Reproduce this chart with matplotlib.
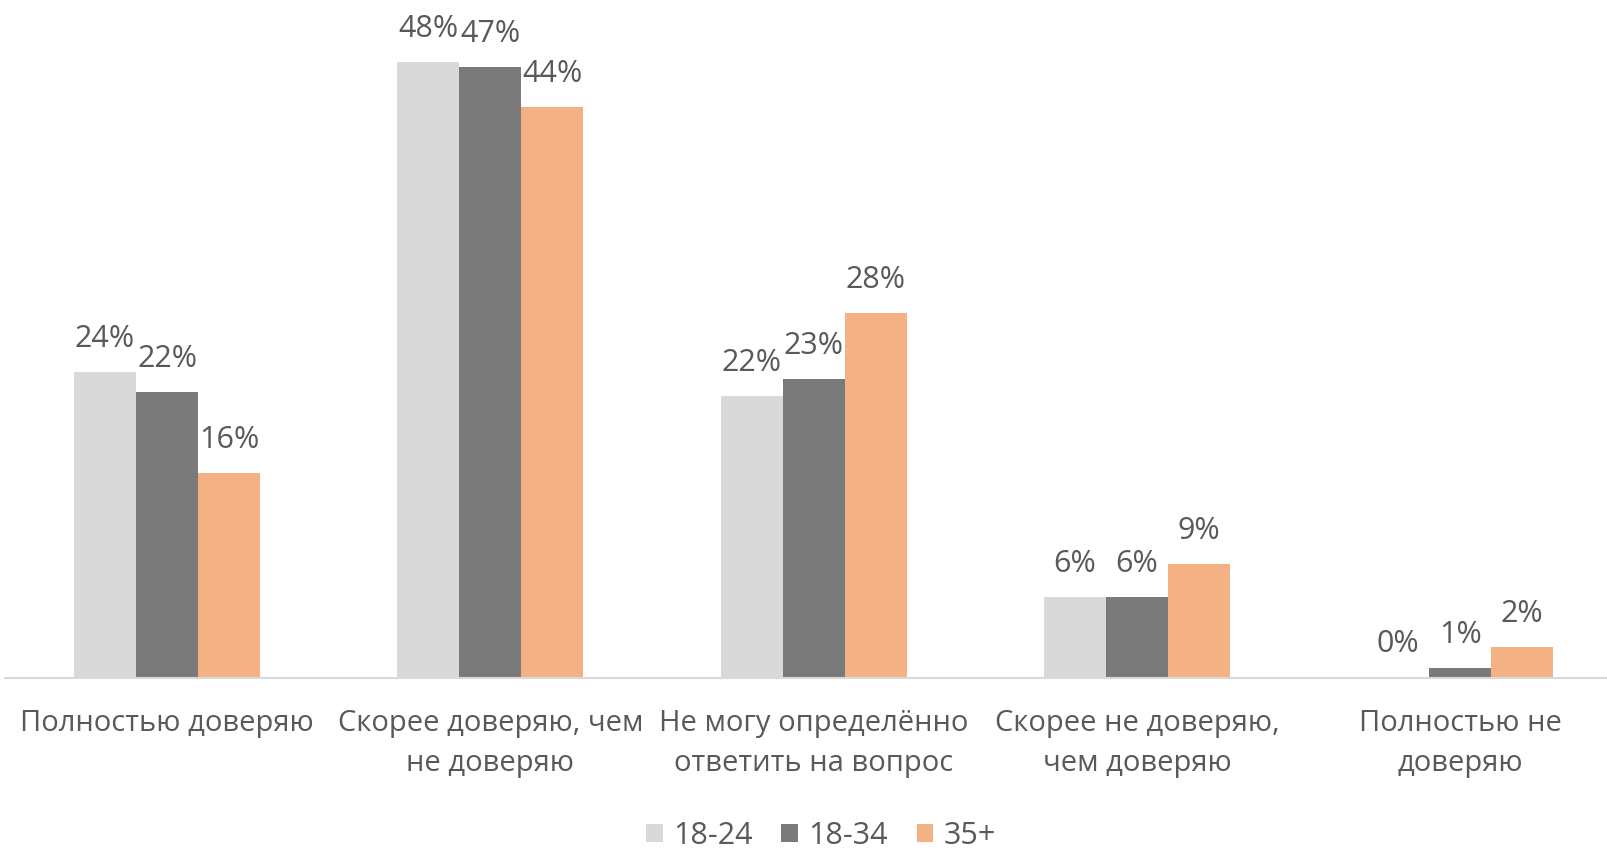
import matplotlib
matplotlib.use("Agg")
import matplotlib.pyplot as plt
import numpy as np

categories = ["Полностью доверяю", "Скорее доверяю, чем\nне доверяю",
              "Не могу определённо\nответить на вопрос", "Скорее не доверяю,\nчем доверяю",
              "Полностью не\nдоверяю"]
series_names = ["18-24", "18-34", "35+"]
v_18_24 = [23.66, 47.71, 21.84, 6.26, 0.0]
v_18_34 = [22.11, 47.30, 23.12, 6.26, 0.71]
v_35 = [15.88, 44.25, 28.23, 8.78, 2.39]
colors = ["#d9d9d9", "#7a7a7a", "#f4b183"]

plt.rcParams['font.family'] = ['Open Sans', 'DejaVu Sans']
fig = plt.figure(figsize=(16.08, 8.49), dpi=100)
W, H = 1608, 849
left_px, base_px = 5.4, 677.5
ax = fig.add_axes([left_px / W, 1 - base_px / H, (W - left_px) / W, base_px / H])

x = np.arange(len(categories))
bw = 0.192
txtc = "#595959"
for i, (vals, c, name) in enumerate(zip([v_18_24, v_18_34, v_35], colors, series_names)):
    pos = x + (i - 1) * bw
    ax.bar(pos, vals, width=bw, color=c, label=name, zorder=2)
    for p, v in zip(pos, vals):
        ax.text(p, v + 1.4, f"{round(v)}%", ha="center", va="bottom", fontsize=22, color=txtc)

ax.set_xlim(-0.5, (W - 167) / 323.3)
ax.set_ylim(0, base_px / 12.9)
ax.set_yticks([])
ax.set_xticks(x)
ax.set_xticklabels(categories, fontsize=21, color=txtc, linespacing=1.5)
ax.tick_params(axis='x', length=0, pad=23)
for s in ["top", "right", "left"]:
    ax.spines[s].set_visible(False)
ax.spines["bottom"].set_color("#d9d9d9")
ax.spines["bottom"].set_linewidth(1.5)

leg = fig.legend(loc="center", bbox_to_anchor=(821 / W, 1 - 836 / H), ncol=3, frameon=False,
                 fontsize=22, handlelength=0.54, handleheight=0.54, columnspacing=0.94,
                 handletextpad=0.34, borderpad=0.1)
for t in leg.get_texts():
    t.set_color(txtc)

fig.savefig("out.png", dpi=100)
